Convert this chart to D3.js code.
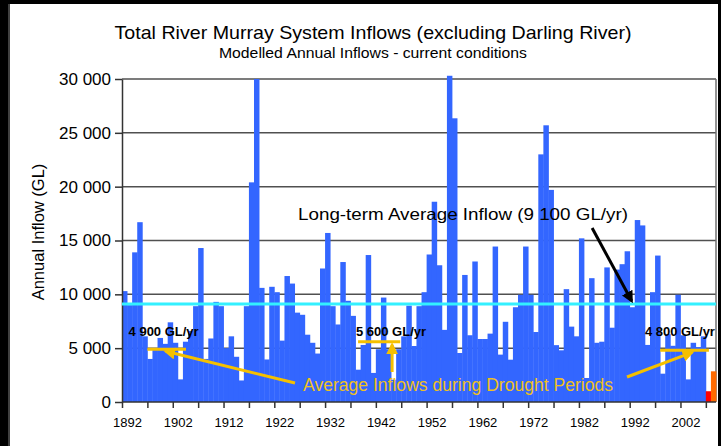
<!DOCTYPE html>
<html>
<head>
<meta charset="utf-8">
<title>River Murray Inflows</title>
<style>
  body { margin: 0; background: #fff; }
  svg { display: block; font-family: "Liberation Sans", Arial, sans-serif; }
  .grid line { stroke: #505050; stroke-width: 1.5px; }
  .axis path, .axis line { stroke: #333; stroke-width: 1.5px; }
</style>
</head>
<body>
<svg width="721" height="446"></svg>
<script src="https://d3js.org/d3.v7.min.js"></script>
<script>
// modelled annual inflows (GL), 1892 - 2006
const firstYear = 1892;
const inflows = [
  10300, 9000, 13900, 16700, 6100, 4000, 4900, 5950, 5400, 7400,   // 1892-1901
  5500, 2100, 5600, 6600, 8900, 14300, 4000, 5900, 9300, 8900,     // 1902-1911
  5000, 6100, 4200, 2000, 8900, 20400, 30000, 10600, 3950, 10700,  // 1912-1921
  10200, 5700, 11700, 11000, 8300, 8100, 6250, 5500, 4500, 12400,  // 1922-1931
  15700, 8900, 7200, 13000, 9400, 8000, 3000, 5300, 13650, 2700,   // 1932-1941
  4900, 9700, 4900, 2070, 4900, 6100, 8950, 5200, 8900, 10200,     // 1942-1951
  13700, 18600, 12700, 6700, 30300, 26350, 4550, 11800, 6200, 13050, // 1952-1961
  5850, 5850, 6350, 14440, 4400, 7450, 3930, 8800, 9960, 14440,    // 1962-1971
  9960, 6500, 23000, 25700, 19700, 5280, 4800, 10480, 7000, 6100,  // 1972-1981
  15200, 2230, 11500, 5500, 5600, 12500, 6900, 12300, 12800, 14000, // 1982-1991
  8800, 16900, 16400, 5300, 10200, 13600, 2630, 6300, 5220, 9960,  // 1992-2001
  6200, 2100, 5500, 5100, 6100                                     // 2002-2006
];
// latest two years, drawn in their own colours
const recentYears = [2007, 2008];
const recentValues = [1000, 2850];
const recentColors = ["#ff0000", "#ff6a00"];

const longTermAvg = 9100;
const droughts = [
  { from: 1897, to: 1904.6, value: 4900, label: "4 900 GL/yr", labelAt: 1893.3 },
  { from: 1938.5, to: 1946.8, value: 5600, label: "5 600 GL/yr", labelAt: 1938.1 },
  { from: 1998, to: 2007.6, value: 4800, label: "4 800 GL/yr", labelAt: 1995.0 }
];
const yTicks = [0, 5000, 10000, 15000, 20000, 25000, 30000];

const blueYears = inflows.map((v, i) => firstYear + i);
const allYears = blueYears.concat(recentYears);
const bars = inflows.map((v, i) => ({ year: blueYears[i], value: v, color: "#3366ff" }))
  .concat(recentYears.map((yr, i) => ({ year: yr, value: recentValues[i], color: recentColors[i] })));

const svg = d3.select("svg");
const plotLeft = 122, plotRight = 716, plotTop = 79, plotBottom = 402;

const x = d3.scaleBand().domain(allYears).range([plotLeft, plotRight]).padding(0);
const xl = d3.scaleLinear().domain([firstYear, 2009]).range([plotLeft, plotRight]);
const y = d3.scaleLinear().domain([0, 30000]).range([plotBottom, plotTop]);

const fmt = d3.formatLocale({ decimal: ".", thousands: " ", grouping: [3], currency: ["", ""] }).format(",");

// slide frame
svg.append("rect").attr("width", 721).attr("height", 446).attr("fill", "#000");
svg.append("rect").attr("x", 8).attr("y", 4).attr("width", 710).attr("height", 442).attr("fill", "#fff");
svg.append("line").attr("x1", 9).attr("x2", 9).attr("y1", 4).attr("y2", 446)
  .attr("stroke", "#000").attr("stroke-width", 1.5);

// titles
svg.append("text").attr("x", 373).attr("y", 39).attr("text-anchor", "middle")
  .attr("font-size", 19).attr("textLength", 517).attr("lengthAdjust", "spacingAndGlyphs")
  .text("Total River Murray System Inflows (excluding Darling River)");
svg.append("text").attr("x", 373).attr("y", 58).attr("text-anchor", "middle")
  .attr("font-size", 14.5).attr("textLength", 308).attr("lengthAdjust", "spacingAndGlyphs")
  .text("Modelled Annual Inflows - current conditions");

// gridlines (behind bars)
svg.append("g").attr("class", "grid")
  .selectAll("line").data(yTicks.filter(d => d > 0)).join("line")
  .attr("x1", plotLeft).attr("x2", plotRight)
  .attr("y1", d => y(d)).attr("y2", d => y(d));
svg.append("line").attr("x1", plotRight).attr("x2", plotRight).attr("y1", plotTop).attr("y2", plotBottom)
  .attr("stroke", "#707070").attr("stroke-width", 1.5);

// bars
svg.append("g").selectAll("rect").data(bars).join("rect")
  .attr("x", d => x(d.year))
  .attr("width", x.bandwidth() + 0.4)
  .attr("y", d => y(d.value))
  .attr("height", d => y(0) - y(d.value))
  .attr("fill", d => d.color);

// axes
const yAxis = svg.append("g").attr("class", "axis")
  .attr("transform", `translate(${plotLeft},0)`)
  .call(d3.axisLeft(y).tickValues(yTicks).tickFormat(fmt).tickSize(7).tickSizeOuter(0).tickPadding(4));
yAxis.selectAll("text").attr("font-size", 17).attr("fill", "#000")
  .attr("font-family", "Liberation Sans, Arial, sans-serif");

const xAxis = svg.append("g").attr("class", "axis")
  .attr("transform", `translate(0,${plotBottom})`)
  .call(d3.axisBottom(xl)
    .tickValues(d3.range(firstYear, 2009, 5))
    .tickFormat(d => (d - firstYear) % 10 === 0 ? d : "")
    .tickSize(6).tickSizeOuter(0).tickPadding(10));
xAxis.select(".domain").attr("d", `M${plotLeft},0H${plotRight}`);
xAxis.selectAll("text").attr("x", 5).attr("font-size", 13).attr("fill", "#000")
  .attr("font-family", "Liberation Sans, Arial, sans-serif");

svg.append("text").attr("transform", "translate(44,232) rotate(-90)")
  .attr("text-anchor", "middle").attr("font-size", 16.5).text("Annual Inflow (GL)");

// long-term average
svg.append("line").attr("x1", plotLeft).attr("x2", plotRight)
  .attr("y1", y(longTermAvg)).attr("y2", y(longTermAvg))
  .attr("stroke", "#33f0ff").attr("stroke-width", 3);

const defs = svg.append("defs");
[["blackHead", "#000"], ["goldHead", "#f5c000"]].forEach(([id, c]) => {
  defs.append("marker").attr("id", id).attr("viewBox", "0 0 10 10")
    .attr("refX", 8).attr("refY", 5).attr("markerWidth", 4).attr("markerHeight", 4)
    .attr("orient", "auto")
    .append("path").attr("d", "M0,0L10,5L0,10z").attr("fill", c);
});

svg.append("text").attr("x", 298).attr("y", 220)
  .attr("font-size", 16.5).attr("textLength", 330).attr("lengthAdjust", "spacingAndGlyphs")
  .text("Long-term Average Inflow (9 100 GL/yr)");
svg.append("line")
  .attr("x1", xl(1984.6)).attr("y1", 228)
  .attr("x2", xl(1992.4)).attr("y2", y(longTermAvg) - 3)
  .attr("stroke", "#000").attr("stroke-width", 3).attr("marker-end", "url(#blackHead)");

// drought averages
const gold = "#f5c000";
droughts.forEach(d => {
  svg.append("line")
    .attr("x1", xl(d.from)).attr("x2", xl(d.to))
    .attr("y1", y(d.value)).attr("y2", y(d.value))
    .attr("stroke", gold).attr("stroke-width", 3);
  svg.append("text").attr("x", xl(d.labelAt)).attr("y", 336)
    .attr("font-size", 13).attr("font-weight", "bold")
    .attr("textLength", 70).attr("lengthAdjust", "spacingAndGlyphs")
    .text(d.label);
});

svg.append("text").attr("x", 303).attr("y", 391)
  .attr("font-size", 17.5).attr("fill", "#f0c020")
  .attr("textLength", 310).attr("lengthAdjust", "spacingAndGlyphs")
  .text("Average Inflows during Drought Periods");

const arrows = [
  [295, 383, xl(1900.6), y(4900) + 2],
  [xl(1945.2), 372, xl(1945.2), y(5600) + 3],
  [627, 377, xl(2004.3), y(4800) + 2]
];
svg.append("g").selectAll("line").data(arrows).join("line")
  .attr("x1", d => d[0]).attr("y1", d => d[1])
  .attr("x2", d => d[2]).attr("y2", d => d[3])
  .attr("stroke", gold).attr("stroke-width", 3).attr("marker-end", "url(#goldHead)");
</script>
</body>
</html>
